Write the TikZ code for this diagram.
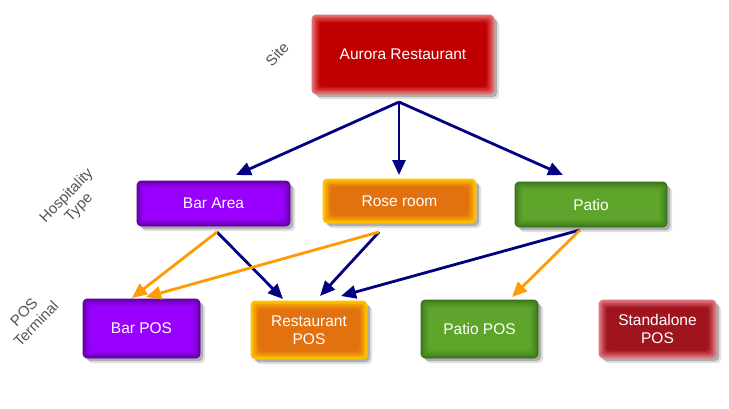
\documentclass[tikz,border=0pt]{standalone}
\usepackage{fontspec}
\setmainfont{Liberation Sans}
\usetikzlibrary{arrows.meta,shadows}
\definecolor{navyc}{HTML}{000080}
\definecolor{orngc}{HTML}{FF9A00}
\definecolor{labgray}{HTML}{555555}
\definecolor{redC}{HTML}{C00000}
\definecolor{redE}{HTML}{E46E6E}
\definecolor{purC}{HTML}{9A00FF}
\definecolor{purE}{HTML}{6C00B8}
\definecolor{purD}{HTML}{4E0088}
\definecolor{orC}{HTML}{E27210}
\definecolor{orE}{HTML}{FFC400}
\definecolor{grC}{HTML}{5FA52C}
\definecolor{grE}{HTML}{3F7C1C}
\definecolor{grD}{HTML}{356A17}
\definecolor{srC}{HTML}{A0141E}
\definecolor{srE}{HTML}{E27480}
\tikzset{
  box/.style n args={3}{rounded corners=4pt, fill=#1, draw=#3, line width=0.7pt,
    text=white, font=\fontsize{15.5}{18}\selectfont, align=center, inner sep=0pt,
    drop shadow={shadow xshift=3pt, shadow yshift=-3pt, opacity=0.22, fill=black},
    drop shadow={shadow xshift=5pt, shadow yshift=-5pt, opacity=0.12, fill=black},
    path picture={
      \foreach \i/\p in {1.5/22,3/45,4.5/66,6/84,7.5/100}{
        \fill[#2!\p!#1, rounded corners=3pt]
          ([shift={(\i pt,-\i pt)}]path picture bounding box.north west) rectangle
          ([shift={(-\i pt,\i pt)}]path picture bounding box.south east);}
    }},
  lbl/.style={text=labgray, font=\fontsize{15}{17}\selectfont, align=center, inner sep=0pt},
  navyarr/.style={draw=navyc, line width=2.8pt, -{Triangle[length=15pt,width=13pt]}},
  orngarr/.style={draw=orngc, line width=2.8pt, -{Triangle[length=15pt,width=13pt]}},
}
\begin{document}
\begin{tikzpicture}[x=1pt,y=-1pt]
\useasboundingbox[fill=white] (0,0) rectangle (729,408);

% boxes
\node[box={redE}{redC}{redE}, minimum width=182pt, minimum height=79pt] (aurora) at (403,54.5) {Aurora Restaurant};
\node[box={purE}{purC}{purD}, minimum width=153pt, minimum height=45pt] (bararea) at (213.5,203.5) {Bar Area};
\node[box={orE}{orC}{orE}, minimum width=153pt, minimum height=44pt] (rose) at (399.5,201) {Rose room};
\node[box={grE}{grC}{grD}, minimum width=152pt, minimum height=45pt] (patio) at (591,204.5) {Patio};
\node[box={purE}{purC}{purD}, minimum width=117pt, minimum height=59pt] (barpos) at (141.5,328.5) {Bar POS};
\node[box={orE}{orC}{orE}, minimum width=116pt, minimum height=58pt] (restpos) at (309,330) {Restaurant\\POS};
\node[box={grE}{grC}{grD}, minimum width=117pt, minimum height=58pt] (patiopos) at (479.5,329) {Patio POS};
\node[box={srE}{srC}{srE}, minimum width=117pt, minimum height=58pt] (standpos) at (657.5,329) {Standalone\\POS};

% level labels
\node[lbl, rotate=47] (lsite) at (277,54) {Site};
\node[lbl, rotate=46] (lhosp) at (73,202) {Hospitality\\Type};
\node[lbl, rotate=46] (lpos) at (30,318) {POS\\Terminal};

% connector end points
\coordinate (root) at (399,102);
\coordinate (t1) at (236,175);
\coordinate (t2) at (399,175);
\coordinate (t3) at (563,175);
\coordinate (ba) at (217,232);
\coordinate (rr) at (379,232);
\coordinate (pa) at (580,230);
\coordinate (bp1) at (132,298);
\coordinate (bp2) at (146,297);
\coordinate (rp1) at (283,299);
\coordinate (rp2) at (320,296);
\coordinate (rp3) at (341,296);
\coordinate (pp) at (512,297);

\draw[navyarr] (root) -- (t1);
\draw[navyarr] (root) -- (t2);
\draw[navyarr] (root) -- (t3);
\draw[navyarr] (ba) -- (rp1);
\draw[navyarr] (rr) -- (rp2);
\draw[navyarr] (pa) -- (rp3);
\draw[orngarr] (ba) -- (bp1);
\draw[orngarr] (rr) -- (bp2);
\draw[orngarr] (pa) -- (pp);
\end{tikzpicture}
\end{document}
